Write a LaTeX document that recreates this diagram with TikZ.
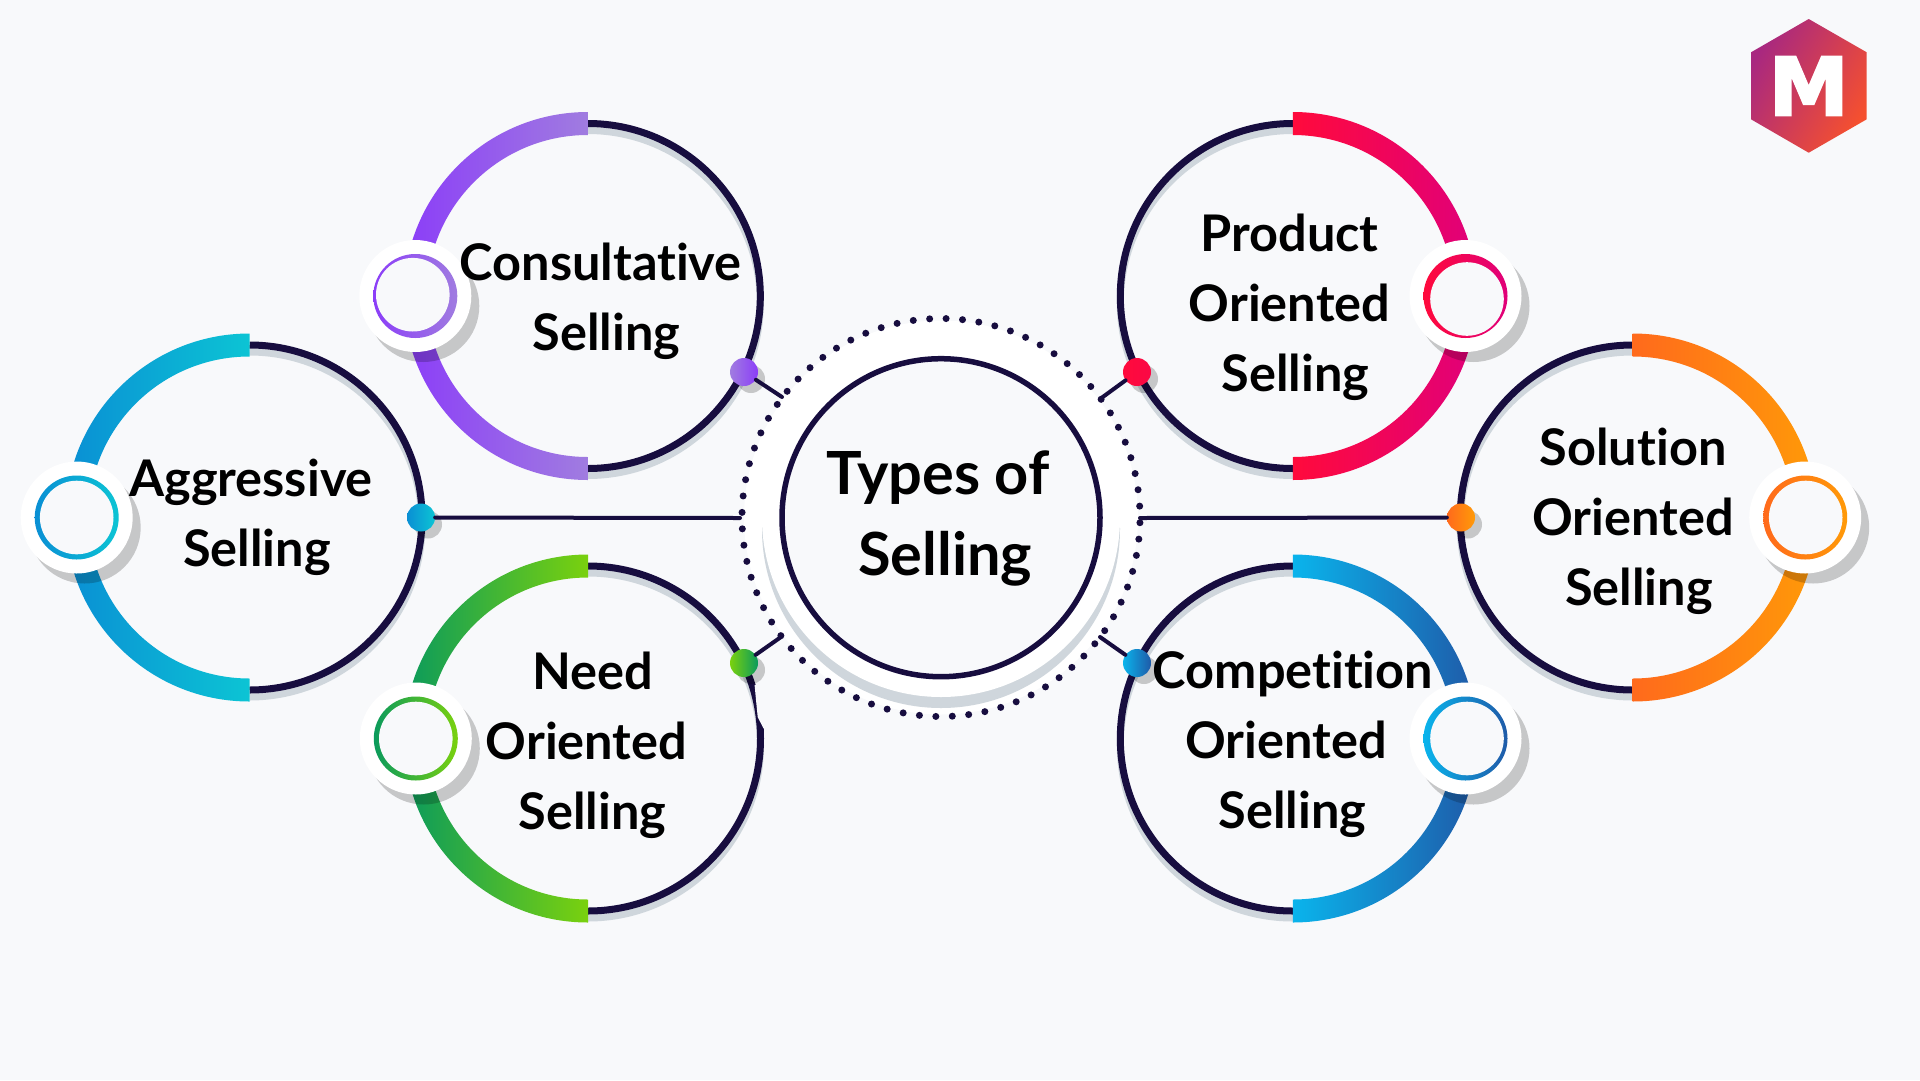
\documentclass[tikz,border=0pt]{standalone}
\usepackage{xcolor}
\usepackage{fontspec}
\setmainfont{Lato}[Ligatures=NoCommon]
\newfontfamily\logofont{DejaVu Sans Bold}[FakeBold=3]
\definecolor{paper}{HTML}{F8F9FB}
\definecolor{inkline}{HTML}{170D3F}
\definecolor{ringshadow}{HTML}{CFD6DC}
\definecolor{consultA}{HTML}{8B3DF8}
\definecolor{consultB}{HTML}{A07CE0}
\definecolor{aggressA}{HTML}{0A8FD4}
\definecolor{aggressB}{HTML}{0CC4D4}
\definecolor{needA}{HTML}{0A9A5C}
\definecolor{needB}{HTML}{7AD10E}
\definecolor{productA}{HTML}{FF0A3C}
\definecolor{productB}{HTML}{E0007A}
\definecolor{solutionA}{HTML}{FF6A1C}
\definecolor{solutionB}{HTML}{FF9A08}
\definecolor{competeA}{HTML}{0AB4EC}
\definecolor{competeB}{HTML}{1F5AA8}
\definecolor{logoA}{HTML}{A82880}
\definecolor{logoB}{HTML}{D92A4A}
\definecolor{logoC}{HTML}{F5502F}

\tikzset{
    ringline/.style={inkline, line width=7pt},
    shadowline/.style={ringshadow, line width=7pt},
    wire/.style={inkline, line width=4pt, line cap=round},
    softshadow/.style={black, opacity=0.2},
    ballnode/.style={circle, minimum size=28pt, inner sep=0pt},
    sidelabel/.style={align=center, text=black, font=\fontsize{50.5}{70}\selectfont\bfseries},
    hublabel/.style={align=center, text=black, font=\fontsize{59.5}{81}\selectfont\bfseries},
    hubnode/.style={circle, draw=inkline, line width=5.5pt, fill=paper, minimum size=318pt, inner sep=0pt},
}

% #1 x, #2 y, #3 end angle of the band, #4 centre of the small circle, #5 left colour, #6 right colour, #7 shift of the hole
\newcommand{\sellring}[7]{
    \draw[shadowline] (#1,#2+7) ++(-90:172.5) arc[start angle=-90, end angle={-180-(#3)}, radius=172.5];
    \draw[ringline] (#1,#2) ++(-90:172.5) arc[start angle=-90, end angle={-180-(#3)}, radius=172.5];
    \shade[left color=#5, right color=#6] (#1,#2) ++(-90:184) arc[start angle=-90, end angle=#3, radius=184]
        -- ++(0,-23) arc[start angle=#3, end angle=-90, radius=161] -- cycle;
    \fill[softshadow] (#4,#2) ++(8,10) circle[radius=56];
    \fill[white] (#4,#2) circle[radius=56];
    \shade[left color=#5, right color=#6] (#4,#2) circle[radius=42];
    \fill[paper] (#4,#2) ++#7 circle[radius=36.8];
}

\begin{document}
\begin{tikzpicture}[x=1pt, y=-1pt]
    \useasboundingbox (0,0) rectangle (1920,1080);
    \fill[paper] (0,0) rectangle (1920,1080);

    % centre
    \fill[white] (941,517.5) circle[radius=197];
    \draw[inkline, line width=7pt, line cap=round, dash pattern=on 0pt off 16.452pt, dash phase=11.25pt] (941,517.5) circle[radius=199];
    \fill[ringshadow] (941,529) circle[radius=179];
    \fill[white] (941,518) circle[radius=179];
    \node[hubnode] (hub) at (941,517.7) {};
    \node[hublabel] (hubtext) at (938,518) {Types of\\\hspace*{14pt}Selling};

    % connector ends on the dotted ring
    \coordinate (endconsult) at (782,397);
    \coordinate (endproduct) at (1100,399);
    \coordinate (endneed) at (781,637);
    \coordinate (endcompete) at (1100,637);
    \coordinate (endaggress) at (740,518);
    \coordinate (endsolution) at (1140,518);

    % rings
    \sellring{587.8}{296}{-270}{415.3}{consultA}{consultB}{(-2.5,-1.3)}
    \sellring{249.5}{517.5}{-270}{76.7}{aggressA}{aggressB}{(0,0)}
    \sellring{588}{738.5}{-270}{415.8}{needA}{needB}{(0,0)}
    \sellring{1292.8}{296}{90}{1465.5}{productA}{productB}{(1.5,3)}
    \sellring{1632.7}{517.5}{90}{1805.2}{solutionA}{solutionB}{(0.5,0)}
    \sellring{1292.8}{738.5}{90}{1465.5}{competeA}{competeB}{(1.5,0)}

    % connectors and their balls
    \fill[softshadow] (744,372) ++(7,7) circle[radius=14];
    \fill[softshadow] (1137,372) ++(7,7) circle[radius=14];
    \fill[softshadow] (744,663) ++(7,7) circle[radius=14];
    \fill[softshadow] (1137,663) ++(7,7) circle[radius=14];
    \fill[softshadow] (421,517.5) ++(7,7) circle[radius=14];
    \fill[softshadow] (1461,517.5) ++(7,7) circle[radius=14];
    \fill[paper] (754.6,685) -- (756,700) -- (757.7,717) -- (763.3,728) -- (772,728) -- (772,685) -- cycle;
    \node[ballnode, left color=consultB, right color=consultA] (ballconsult) at (744,372) {};
    \node[ballnode, left color=productA, right color=productA!85!productB] (ballproduct) at (1137,372) {};
    \node[ballnode, left color=needB, right color=needA] (ballneed) at (744,663) {};
    \node[ballnode, left color=competeA, right color=competeB] (ballcompete) at (1137,663) {};
    \node[ballnode, left color=aggressA, right color=aggressB] (ballaggress) at (421,517.5) {};
    \node[ballnode, left color=solutionA, right color=solutionB] (ballsolution) at (1461,517.5) {};
    \draw[wire] (ballconsult) -- (endconsult);
    \draw[wire] (ballproduct) -- (endproduct);
    \draw[wire] (ballneed) -- (endneed);
    \draw[wire] (ballcompete) -- (endcompete);
    \draw[wire] (ballaggress) -- (endaggress);
    \draw[wire] (ballsolution) -- (endsolution);

    % labels
    \node[sidelabel] (consult) at (600.6,301.5) {Consultative\\\hspace*{12pt}Selling};
    \node[sidelabel] (aggress) at (251,517.5) {Aggressive\\\hspace*{12pt}Selling};
    \node[sidelabel] (need) at (586.5,745.5) {\hspace*{12pt}Need\\Oriented\\\hspace*{12pt}Selling};
    \node[sidelabel] (product) at (1289.5,307) {Product\\Oriented\\\hspace*{12pt}Selling};
    \node[sidelabel] (solution) at (1633,521) {Solution\\Oriented\\\hspace*{12pt}Selling};
    \node[sidelabel] (compete) at (1286,744) {\hspace*{14pt}Competition\\Oriented\\\hspace*{13pt}Selling};

    % logo
    \shade[left color=logoA, middle color=logoB, right color=logoC, shading angle=60]
        (1808.7,19) -- (1866.7,52.3) -- (1866.7,119.3) -- (1808.7,152.7) -- (1751,119.3) -- (1751,52.3) -- cycle;
    \node[text=white, font=\fontsize{80}{80}\selectfont\logofont] (logo) at (1808.7,86) {M};
\end{tikzpicture}
\end{document}
